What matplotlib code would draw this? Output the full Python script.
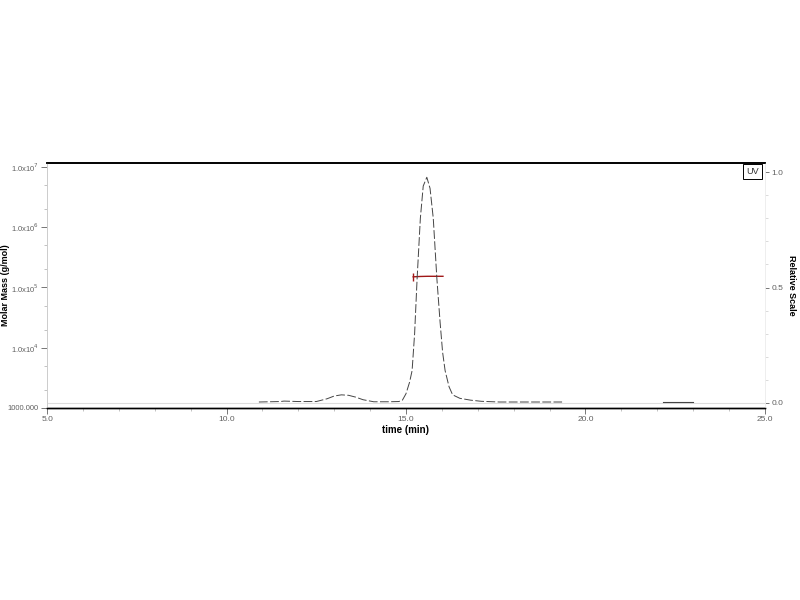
import matplotlib.pyplot as plt
from matplotlib.ticker import FixedLocator, NullFormatter

plt.rcParams['font.family'] = ['Liberation Sans', 'DejaVu Sans']

# UV trace (relative scale)
uv_time = [10.9, 11.5, 11.6, 12.0, 12.5, 12.8, 13.0, 13.2, 13.4, 13.6, 13.8, 14.1,
           14.5, 14.8, 14.9, 15.0, 15.1, 15.17, 15.24, 15.31, 15.4, 15.48, 15.58,
           15.67, 15.76, 15.86, 15.95, 16.02, 16.09, 16.2, 16.3, 16.5, 16.8, 17.1,
           17.6, 19.35]
uv_value = [0.004, 0.006, 0.008, 0.006, 0.006, 0.018, 0.03, 0.035, 0.033, 0.025, 0.014, 0.005,
            0.005, 0.006, 0.012, 0.04, 0.09, 0.14, 0.30, 0.54, 0.80, 0.94, 0.978,
            0.93, 0.80, 0.54, 0.35, 0.22, 0.14, 0.07, 0.035, 0.02, 0.012, 0.007,
            0.004, 0.004]
uv2_time = [22.15, 23.0]
uv2_value = [0.004, 0.004]

# molar mass across the main peak
mm_time = [15.2, 15.4, 15.6, 15.8, 16.03]
mm_value = [1.50e5, 1.52e5, 1.53e5, 1.53e5, 1.53e5]

x_ticks = [5.0, 10.0, 15.0, 20.0, 25.0]
y_ticks = [1e3, 1e4, 1e5, 1e6, 1e7]
y_labels = ['1000.000', r'1.0x10$^{4}$', r'1.0x10$^{5}$', r'1.0x10$^{6}$', r'1.0x10$^{7}$']
rel_ticks = [0.0, 0.5, 1.0]

fig = plt.figure(figsize=(8, 6), dpi=100)
ax = fig.add_axes([0.059, 0.32, 0.897, 0.408])
ax2 = ax.twinx()

tick_col = '#606060'

# left: molar mass, log scale
ax.set_yscale('log')
ax.set_ylim(1000, 1.15e7)
ax.set_xlim(5, 25)
ax.plot(mm_time, mm_value, color='#a01818', lw=1.0)
ax.plot(mm_time[:1], mm_value[:1], marker='|', color='#a01818', ms=6, mew=1.0)
ax.yaxis.set_major_locator(FixedLocator(y_ticks))
ax.set_yticklabels(y_labels)
ax.yaxis.set_minor_locator(FixedLocator([2e3, 5e3, 2e4, 5e4, 2e5, 5e5, 2e6, 5e6]))
ax.yaxis.set_minor_formatter(NullFormatter())
ax.set_xticks(x_ticks)
ax.set_xticklabels([f'{v:.1f}' for v in x_ticks])
ax.set_xticks(range(5, 26), minor=True)
ax.tick_params(axis='both', which='major', labelsize=6, colors=tick_col,
               length=4, width=0.6, labelcolor=tick_col, pad=2)
ax.tick_params(axis='y', which='major', labelsize=5.5, pad=2)
ax.tick_params(axis='both', which='minor', length=2, width=0.5, colors='#aaaaaa')
ax.set_xlabel('time (min)', fontsize=7, fontweight='bold', labelpad=1)
ax.set_ylabel('Molar Mass (g/mol)', fontsize=6.5, fontweight='bold', va='center')
ax.yaxis.set_label_coords(-0.0585, 0.5)

# right: UV relative scale
ax2.set_ylim(-0.022, 1.039)
ax2.axhline(0, color='#dddddd', lw=0.8, zorder=0)
ax2.plot(uv_time, uv_value, color='#444444', lw=0.7, ls=(0, (9, 2.5)))
ax2.plot(uv2_time, uv2_value, color='#444444', lw=0.8)
ax2.set_yticks(rel_ticks)
ax2.set_yticklabels([f'{v:.1f}' for v in rel_ticks])
ax2.set_yticks([i / 10 for i in range(11)], minor=True)
ax2.tick_params(axis='y', which='major', labelsize=6, colors=tick_col, length=3, width=0.6, pad=2)
ax2.tick_params(axis='y', which='minor', length=2, width=0.5, colors='#cccccc')
ax2.set_ylabel('Relative Scale', fontsize=6.5, fontweight='bold', rotation=270, va='center')
ax2.yaxis.set_label_coords(1.037, 0.5)

for a in (ax, ax2):
    a.spines['top'].set_linewidth(1.2)
    a.spines['top'].set_color('black')
    a.spines['bottom'].set_linewidth(1.0)
    a.spines['bottom'].set_color('black')
    a.spines['left'].set_color('#cccccc')
    a.spines['left'].set_linewidth(0.6)
    a.spines['right'].set_color('#eeeeee')
    a.spines['right'].set_linewidth(0.6)

ax2.text(0.992, 0.985, 'UV', transform=ax2.transAxes, ha='right', va='top', fontsize=6.5,
         color='#333333', bbox=dict(boxstyle='square,pad=0.35', fc='white', ec='black', lw=0.7))

fig.savefig('out.png', dpi=100)
